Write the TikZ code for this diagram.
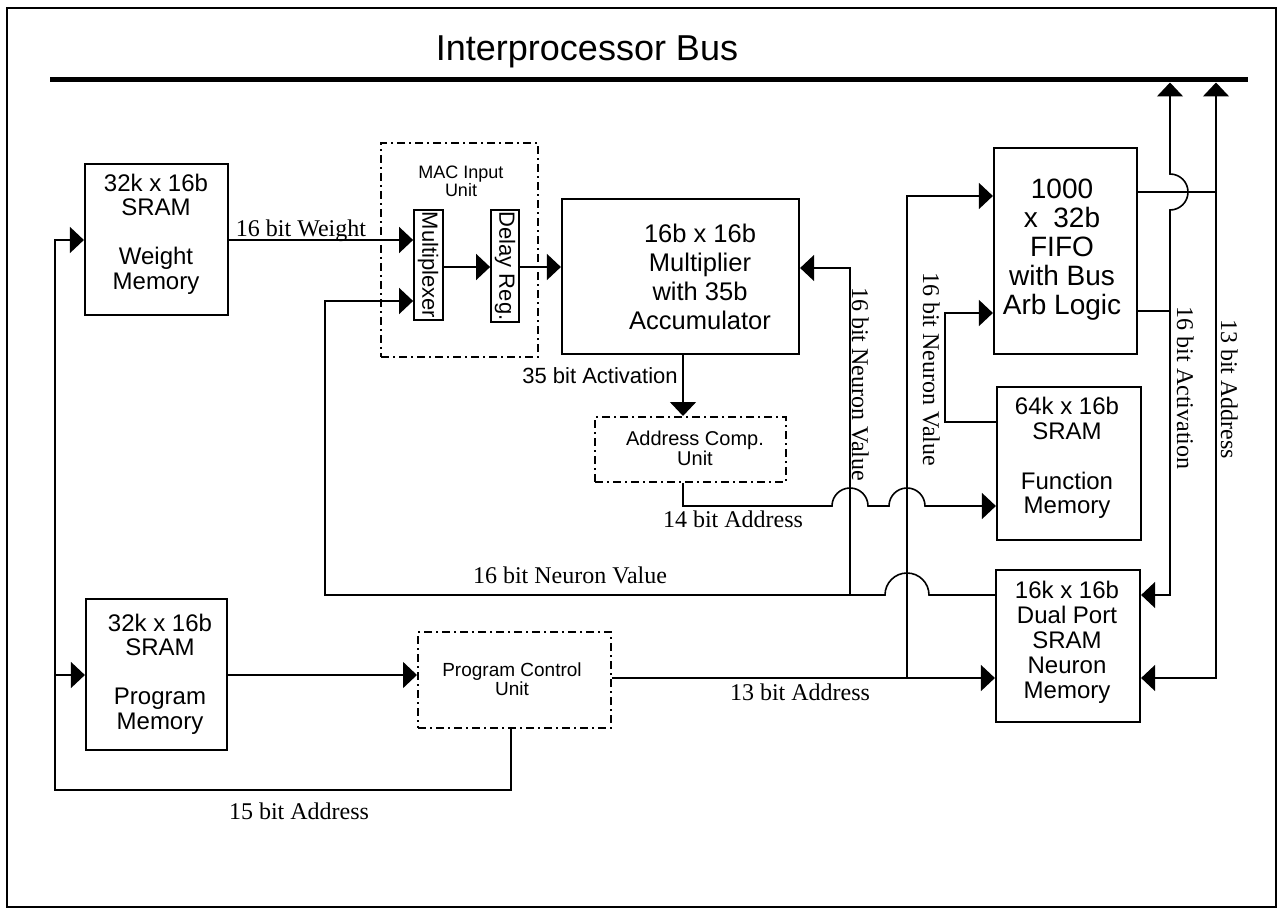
\documentclass[tikz,border=0pt]{standalone}
\usepackage{fontspec}
\setmainfont{Liberation Serif}
\newfontfamily\hv{Liberation Sans}
\usetikzlibrary{arrows.meta,fit}
\begin{document}
\begin{tikzpicture}[x=0.5pt,y=-0.5pt,
  box/.style={draw, line width=1.1pt, inner sep=0pt},
  dbox/.style={draw, line width=1pt, dash pattern=on 4pt off 2pt on 1pt off 2pt, inner sep=0pt},
  wire/.style={line width=0.8pt},
  tip/.tip={Triangle[width=13pt,length=7pt]},
  arr/.style={wire, -tip},
  mem/.style={font=\hv\fontsize{12}{12.3}\selectfont, align=center, inner sep=0pt},
  small/.style={font=\hv\fontsize{#1}{#1}\selectfont, align=center, inner sep=0pt},
  lab/.style={font=\fontsize{12}{14}\selectfont, inner sep=0pt, anchor=base},
  vlab/.style={font=\fontsize{12}{14}\selectfont, inner sep=0pt, anchor=base, rotate=-90},
]
\useasboundingbox (0,0) rectangle (1279,909);
\node[draw, line width=1pt, inner sep=0pt, fit={(7,8)(1276,907)}] (frame) {};

% title and bus
\node[font=\hv\fontsize{18}{20}\selectfont, inner sep=0pt] (title) at (587,52) {Interprocessor Bus};
\coordinate (busL) at (50,80);
\coordinate (busR) at (1248,80);
\draw[line width=2.5pt] (busL) -- (busR);

% boxes
\node[box, fit={(85,164)(228,315)}] (wm) {};
\node[mem] (wmt) at (156,234) {32k x 16b\\SRAM\\[12.3pt]Weight\\Memory};
\node[box, fit={(86,599)(227,750)}] (pm) {};
\node[mem] (pmt) at (160,674) {32k x 16b\\SRAM\\[12.3pt]Program\\Memory};

\node[dbox, fit={(381,143)(538,357)}] (mac) {};
\node[small=9] (mact) at (461,181) {MAC Input\\Unit};
\node[box, line width=0.9pt, fit={(414,210)(443,320)}] (mux) {};
\node[small=11, rotate=-90] (muxt) at (428,265) {Multiplexer};
\node[box, line width=0.9pt, fit={(491,210)(519,322)}] (dreg) {};
\node[small=11, rotate=-90] (dregt) at (505,266) {Delay Reg.};

\node[box, fit={(562,199)(799,354)}] (mult) {};
\node[font=\hv\fontsize{12.75}{14.5}\selectfont, align=center, inner sep=0pt] (multt) at (700,277)
  {16b x 16b\\Multiplier\\with 35b\\Accumulator};

\node[dbox, fit={(595,417)(786,482)}] (acu) {};
\node[small=10] (acut) at (695,448) {Address Comp.\\Unit};

\node[dbox, fit={(418,632)(611,728)}] (pcu) {};
\node[small=9.5] (pcut) at (512,679) {Program Control\\Unit};

\node[box, fit={(994,148)(1137,354)}] (fifo) {};
\node[font=\hv\fontsize{14}{14.5}\selectfont, align=center, inner sep=0pt] (fifot) at (1062,250)
  {1000\\x\ \ 32b\\FIFO\\with Bus\\Arb Logic};

\node[box, fit={(997,387)(1141,540)}] (fm) {};
\node[mem] (fmt) at (1067,458) {64k x 16b\\SRAM\\[12.5pt]Function\\Memory};

\node[box, fit={(996,570)(1140,722)}] (nm) {};
\node[mem, font=\hv\fontsize{12}{12.5}\selectfont] (nmt) at (1067,642) {16k x 16b\\Dual Port\\SRAM\\Neuron\\Memory};

% connectors
\draw[arr] (pcu.south -| 511,0) -- (511,790) -- (55,790) -- (55,240) -- (wm.west |- 0,240);
\draw[arr] (55,675) -- (pm.west |- 0,675);
\draw[arr] (wm.east |- 0,240) -- (mux.west |- 0,240);
\draw[arr] (mux.east |- 0,267) -- (dreg.west |- 0,267);
\draw[arr] (dreg.east |- 0,267) -- (mult.west |- 0,267);
\draw[arr] (mult.south -| 683,0) -- (acu.north -| 683,0);
\draw[arr] (acu.south -| 683,0) -- (683,506) -- (832,506) arc[start angle=180, end angle=360, radius=18]
   -- (889,506) arc[start angle=180, end angle=360, radius=18] -- (fm.west |- 0,506);
\draw[arr] (pm.east |- 0,675) -- (pcu.west |- 0,675);
\draw[arr] (pcu.east |- 0,678) -- (nm.west |- 0,678);
\draw[arr] (907,678) -- (907,196) -- (fifo.west |- 0,196);
\draw[arr] (fm.west |- 0,422) -- (945,422) -- (945,313) -- (fifo.west |- 0,313);
\draw[arr] (nm.west |- 0,595) -- (929,595) arc[start angle=0, end angle=-180, radius=22]
   -- (325,595) -- (325,301) -- (mux.west |- 0,301);
\draw[arr] (850,595) -- (850,268) -- (mult.east |- 0,268);
\draw[wire, tip-tip] (nm.east |- 0,595) -- (1170,595) -- (1170,210)
   arc[start angle=90, end angle=-90, radius=18] -- (1170,82.5);
\draw[wire, tip-tip] (nm.east |- 0,678) -- (1216,678) -- (1216,82.5);
\draw[wire] (fifo.east |- 0,192) -- (1216,192);
\draw[wire] (fifo.east |- 0,311) -- (1170,311);

% labels
\node[lab] (l16w) at (301,236) {16 bit Weight};
\node[font=\hv\fontsize{11}{11}\selectfont, inner sep=0pt, anchor=base] (l35) at (600,383) {35 bit Activation};
\node[lab] (l14) at (733,527) {14 bit Address};
\node[lab] (l16n) at (570,583) {16 bit Neuron Value};
\node[lab] (l13) at (800,700) {13 bit Address};
\node[lab] (l15) at (299,819) {15 bit Address};
\node[vlab] (v16a) at (852,384) {16 bit Neuron Value};
\node[vlab] (v16b) at (923,369) {16 bit Neuron Value};
\node[vlab] (v16c) at (1177,388) {16 bit Activation};
\node[vlab] (v13) at (1221,389) {13 bit Address};
\end{tikzpicture}
\end{document}
